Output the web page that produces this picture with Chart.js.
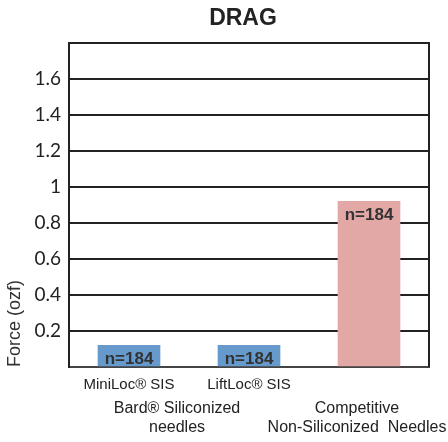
<!DOCTYPE html>
<html>
<head>
<meta charset="utf-8">
<script src="https://cdn.jsdelivr.net/npm/chart.js@4.4.1/dist/chart.umd.min.js"></script>
<style>
  html, body { margin: 0; padding: 0; background: #fff; }
  #wrap { width: 448px; height: 442px; }
</style>
</head>
<body>
<div id="wrap"><canvas id="myChart"></canvas></div>
<script>
(() => {
  'use strict'

  // Data
  const categories = ['MiniLoc® SIS', 'LiftLoc® SIS', 'Competitive']
  const tickLabels = ['MiniLoc® SIS', 'LiftLoc® SIS', '']
  const forceValues = [0.12, 0.12, 0.92]
  const sampleSizes = ['n=184', 'n=184', 'n=184']
  const barColors = ['#6699cc', '#6699cc', '#e2a8a6']
  const yTickValues = [0.2, 0.4, 0.6, 0.8, 1, 1.2, 1.4, 1.6]
  const groupLabels = [['Bard® Siliconized', 'needles'], ['Competitive', 'Non-Siliconized  Needles']]
  const groupMembers = [[0, 1], [2]]

  const narrow = '"Liberation Sans Narrow", "Liberation Sans", Arial, sans-serif'

  // draws title, bar labels, group labels and right frame
  const extras = {
    id: 'extras',
    afterDatasetsDraw (chart) {
      const { ctx, chartArea } = chart
      const meta = chart.getDatasetMeta(0)
      ctx.save()

      // right border
      ctx.strokeStyle = '#222'
      ctx.lineWidth = 2
      ctx.beginPath()
      ctx.moveTo(chartArea.right, chartArea.top - 1)
      ctx.lineTo(chartArea.right, chartArea.bottom)
      ctx.stroke()

      // n= labels
      ctx.fillStyle = '#333'
      ctx.font = 'bold 17px ' + narrow
      ctx.textAlign = 'center'
      ctx.textBaseline = 'middle'
      meta.data.forEach((bar, i) => {
        ctx.fillText(sampleSizes[i], bar.x, bar.y + 14)
      })

      // title
      ctx.fillStyle = '#222'
      ctx.font = 'bold 23px "Liberation Sans", Arial, sans-serif'
      ctx.fillText('DRAG', (chartArea.left + chartArea.right) / 2 - 6, 19)

      // group labels
      ctx.fillStyle = '#222'
      ctx.font = '16px ' + narrow
      groupLabels.forEach((lines, g) => {
        const xs = groupMembers[g].map(i => meta.data[i].x)
        const cx = xs.reduce((a, b) => a + b, 0) / xs.length
        lines.forEach((line, k) => {
          ctx.fillText(line, cx - 12, chartArea.bottom + 42 + k * 19)
        })
      })
      ctx.restore()
    }
  }

  const ctx = document.getElementById('myChart')
  // eslint-disable-next-line no-unused-vars
  const myChart = new Chart(ctx, {
    type: 'bar',
    data: {
      labels: categories,
      datasets: [{
        label: 'Force (ozf)',
        data: forceValues,
        backgroundColor: barColors,
        borderWidth: 0,
        barThickness: 62
      }]
    },
    options: {
      responsive: true,
      maintainAspectRatio: false,
      animation: false,
      layout: { padding: { top: 43, right: 19, bottom: 0, left: 4 } },
      plugins: {
        legend: { display: false },
        tooltip: { enabled: false }
      },
      scales: {
        x: {
          grid: { display: false },
          border: { color: '#444', width: 2 },
          ticks: {
            color: '#222',
            font: { family: narrow, size: 15 },
            padding: 1,
            maxRotation: 0,
            autoSkip: false,
            callback: (v, i) => tickLabels[i]
          },
          afterFit: (scale) => { scale.height = 75 }
        },
        y: {
          min: 0,
          max: 1.8,
          grid: { color: '#222', lineWidth: 2, drawTicks: false },
          border: { color: '#222', width: 2 },
          ticks: {
            stepSize: 0.2,
            padding: 8,
            color: '#222',
            font: { family: 'Lato, sans-serif', size: 19 },
            callback: (v) => {
              const t = yTickValues.find(y => Math.abs(y - v) < 1e-6)
              return t === undefined ? '' : String(t)
            }
          },
          title: {
            display: true,
            text: 'Force (ozf)',
            align: 'start',
            color: '#333',
            font: { family: narrow, size: 18 },
            padding: { top: 0, bottom: 0 }
          },
          afterFit: (scale) => { scale.width = 65 }
        }
      }
    },
    plugins: [extras]
  })
})()
</script>
</body>
</html>
